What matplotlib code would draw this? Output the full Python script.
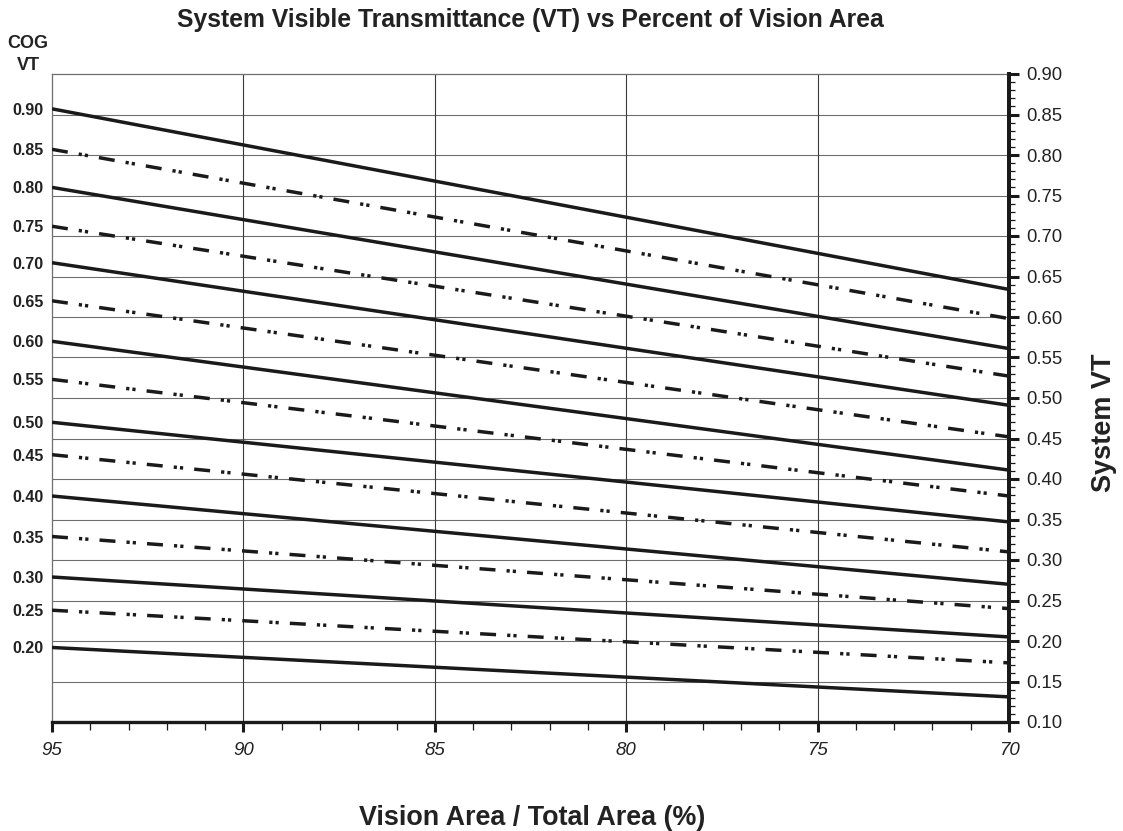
import matplotlib
matplotlib.use('Agg')
import matplotlib.pyplot as plt
from matplotlib.ticker import MultipleLocator, FixedLocator
import numpy as np

plt.rcParams['font.family'] = ['Liberation Sans', 'DejaVu Sans']
plt.rcParams['lines.scale_dashes'] = False

# vision area (%) at the two ends of each line
vision_area = [95, 70]

# COG VT of each line (left labels)
cog_vt = [0.90, 0.85, 0.80, 0.75, 0.70, 0.65, 0.60, 0.55,
          0.50, 0.45, 0.40, 0.35, 0.30, 0.25, 0.20]
# system VT read at 95 % and at 70 %
sys_vt_95 = [0.857, 0.807, 0.760, 0.712, 0.667, 0.620, 0.570, 0.523,
             0.470, 0.430, 0.379, 0.329, 0.279, 0.238, 0.192]
sys_vt_70 = [0.634, 0.598, 0.561, 0.527, 0.491, 0.452, 0.411, 0.379,
             0.347, 0.310, 0.270, 0.240, 0.205, 0.173, 0.131]

cog_labels = ['%.2f' % v for v in cog_vt]
right_ticks = np.round(np.arange(0.10, 0.901, 0.05), 2)
x_ticks = [95, 90, 85, 80, 75, 70]

fig = plt.figure(figsize=(11.23, 8.31), dpi=100)
ax = fig.add_axes([52 / 1123, 1 - 722 / 831, (1009 - 52) / 1123, (722 - 74) / 831])

# grid
for yv in right_ticks[1:-1]:
    ax.axhline(yv, color='#6e6e6e', lw=0.8, zorder=1)
for xv in x_ticks[1:-1]:
    ax.axvline(xv, color='#3a3a3a', lw=0.8, zorder=1)

dash_pat = (0, (11.5, 8.0, 2.3, 2.2, 2.3, 8.0))
for i, (c, y0, y1) in enumerate(zip(cog_vt, sys_vt_95, sys_vt_70)):
    ls = '-' if i % 2 == 0 else dash_pat
    ax.plot(vision_area, [y0, y1], color='#1a1a1a', lw=2.5,
            linestyle=ls, solid_capstyle='butt', dash_capstyle='butt',
            zorder=3)

ax.set_xlim(95, 70)
ax.set_ylim(0.10, 0.90)

# spines
ax.spines['top'].set_color('#6e6e6e')
ax.spines['top'].set_linewidth(0.9)
ax.spines['left'].set_color('#6e6e6e')
ax.spines['left'].set_linewidth(0.9)
ax.spines['right'].set_color('#1a1a1a')
ax.spines['right'].set_linewidth(2.8)
ax.spines['bottom'].set_color('#1a1a1a')
ax.spines['bottom'].set_linewidth(2.4)

# bottom axis
ax.xaxis.set_major_locator(FixedLocator(x_ticks))
ax.xaxis.set_minor_locator(MultipleLocator(1))
ax.set_xticklabels([str(v) for v in x_ticks], fontstyle='italic',
                   fontsize=13.5, color='#222222')
ax.tick_params(axis='x', which='major', direction='out', length=7.5,
               width=2.2, color='#1a1a1a', pad=7)
ax.tick_params(axis='x', which='minor', direction='out', length=5.5,
               width=0.9, color='#1a1a1a')

# left axis: COG VT labels at the line starts
ax.yaxis.set_major_locator(FixedLocator(sys_vt_95))
ax.set_yticklabels(cog_labels, fontweight='bold', fontsize=11.5,
                   color='#222222')
ax.tick_params(axis='y', which='both', length=0, pad=6)
ax.yaxis.set_minor_locator(FixedLocator([]))

# right axis: system VT
ax2 = ax.twinx()
ax2.set_ylim(0.10, 0.90)
for s in ['top', 'left', 'bottom']:
    ax2.spines[s].set_visible(False)
ax2.spines['right'].set_color('#1a1a1a')
ax2.spines['right'].set_linewidth(2.8)
ax2.yaxis.set_major_locator(FixedLocator(right_ticks))
ax2.yaxis.set_minor_locator(MultipleLocator(0.01))
ax2.set_yticklabels(['%.2f' % v for v in right_ticks], fontsize=13.3,
                    color='#222222')
ax2.tick_params(axis='y', which='major', direction='out', length=7.5,
                width=2.2, color='#1a1a1a', pad=5)
ax2.tick_params(axis='y', which='minor', direction='out', length=4,
                width=0.9, color='#1a1a1a')

fig.text(530 / 1123, 1 - 27 / 831,
         'System Visible Transmittance (VT) vs Percent of Vision Area',
         ha='center', va='baseline', fontsize=17.8, fontweight='bold',
         color='#222222')
fig.text(28 / 1123, 1 - 43 / 831, 'COG', ha='center', va='center',
         fontsize=13, fontweight='bold', color='#222222')
fig.text(28 / 1123, 1 - 65 / 831, 'VT', ha='center', va='center',
         fontsize=13, fontweight='bold', color='#222222')
fig.text(532 / 1123, 1 - 825 / 831, 'Vision Area / Total Area (%)',
         ha='center', va='baseline', fontsize=19.4, fontweight='bold',
         color='#222222')
fig.text(1104 / 1123, 1 - 423 / 831, 'System VT', rotation=90,
         ha='center', va='center', fontsize=19.5, fontweight='bold',
         color='#222222')

fig.savefig('out.png', dpi=100)
